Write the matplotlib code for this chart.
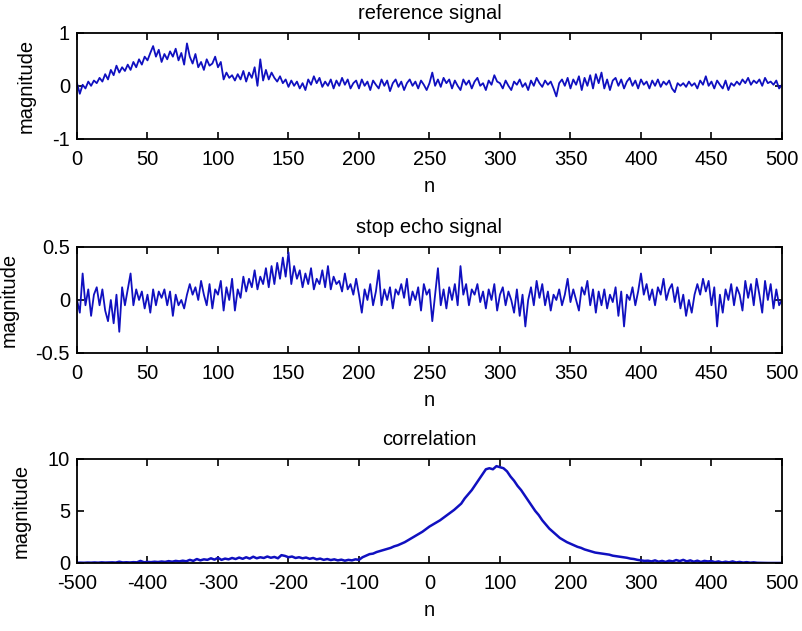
import numpy as np
import matplotlib
matplotlib.use('Agg')
import matplotlib.pyplot as plt

plt.rcParams['font.family'] = ['Liberation Sans', 'DejaVu Sans']
plt.rcParams['axes.unicode_minus'] = False

# ---- data ----
# reference signal, n = 0, 2, ..., 500
n_sig = np.arange(0, 501, 2)
ref_signal = [
    0.05, -0.15, 0.02, -0.05, 0.08, 0.0, 0.1, 0.05, 0.15, 0.08,
    0.22, 0.12, 0.3, 0.2, 0.38, 0.25, 0.35, 0.28, 0.4, 0.3,
    0.45, 0.35, 0.5, 0.4, 0.55, 0.48, 0.62, 0.75, 0.55, 0.68,
    0.45, 0.6, 0.5, 0.65, 0.55, 0.7, 0.48, 0.62, 0.4, 0.8,
    0.55, 0.42, 0.6, 0.35, 0.45, 0.3, 0.5, 0.38, 0.42, 0.55,
    0.35, 0.45, 0.12, 0.25, 0.15, 0.2, 0.1, 0.22, 0.12, 0.28,
    0.08, 0.25, 0.15, 0.35, 0.0, 0.5, 0.1, 0.3, 0.12, 0.25,
    0.15, 0.08, 0.18, 0.05, 0.12, -0.02, 0.1, 0.0, 0.08, -0.05,
    0.05, -0.08, 0.12, 0.02, 0.18, 0.05, 0.15, -0.02, 0.08, 0.0,
    0.12, -0.05, 0.1, 0.0, 0.15, 0.02, 0.12, -0.05, 0.05, 0.1,
    -0.05, 0.12, 0.0, 0.08, -0.08, 0.1, 0.02, -0.05, 0.12, 0.0,
    0.1, -0.1, 0.05, 0.12, -0.02, 0.08, -0.08, 0.05, 0.12, 0.0,
    0.08, -0.05, 0.1, 0.02, -0.08, 0.05, 0.25, 0.0, 0.12, -0.02,
    0.15, 0.05, 0.12, -0.05, 0.1, 0.0, -0.08, 0.12, 0.02, 0.1,
    -0.05, 0.08, 0.15, 0.0, 0.05, -0.08, 0.1, 0.02, 0.2, 0.08,
    0.05, -0.05, 0.1, 0.0, -0.08, 0.08, 0.02, 0.12, -0.02, 0.05,
    -0.08, 0.1, 0.0, 0.15, 0.05, -0.02, 0.1, 0.02, 0.08, -0.05,
    -0.2, 0.05, 0.12, 0.0, 0.15, -0.05, 0.12, 0.02, 0.18, -0.08,
    0.15, 0.0, 0.2, -0.05, 0.22, 0.05, 0.25, -0.05, 0.12, -0.08,
    0.1, 0.15, 0.0, 0.12, -0.05, 0.08, 0.15, 0.0, 0.1, -0.05,
    0.12, 0.02, 0.08, -0.05, 0.1, 0.0, 0.12, -0.02, 0.08, 0.02,
    0.1, -0.05, -0.12, 0.05, 0.0, 0.05, -0.02, 0.08, 0.0, 0.05,
    -0.05, 0.1, 0.02, 0.18, 0.0, 0.08, -0.05, 0.1, 0.02, -0.05,
    0.1, -0.08, 0.05, 0.0, 0.08, 0.02, 0.12, 0.05, 0.15, 0.02,
    0.1, 0.05, 0.12, 0.0, 0.15, 0.05, 0.08, 0.02, 0.1, -0.05,
    0.02,
]

# stop echo signal, n = 0, 2, ..., 500
echo_signal = [
    0.0, -0.12, 0.25, -0.05, 0.1, -0.15, 0.05, 0.12, -0.05, 0.1,
    -0.1, -0.2, 0.0, -0.22, 0.05, -0.3, 0.12, -0.05, 0.1, 0.25,
    -0.05, 0.1, 0.0, 0.08, -0.08, 0.05, -0.12, 0.1, -0.05, 0.08,
    0.02, 0.1, -0.05, 0.08, -0.15, 0.05, -0.05, 0.0, -0.08, 0.05,
    0.15, 0.05, 0.12, 0.0, 0.18, 0.05, -0.05, 0.15, -0.08, 0.1,
    0.05, 0.18, -0.1, 0.12, 0.0, 0.2, -0.1, 0.1, 0.02, 0.22,
    0.08, 0.2, 0.12, 0.28, 0.1, 0.22, 0.15, 0.3, 0.12, 0.32,
    0.15, 0.35, 0.2, 0.4, 0.22, 0.45, 0.15, 0.32, 0.2, 0.28,
    0.12, 0.25, 0.15, 0.3, 0.1, 0.2, 0.15, 0.28, 0.12, 0.32,
    0.1, 0.22, 0.15, 0.18, 0.08, 0.25, 0.1, 0.15, 0.05, 0.2,
    0.05, -0.12, 0.1, 0.0, 0.15, -0.05, 0.08, 0.28, -0.05, 0.1,
    0.0, 0.12, -0.08, 0.1, 0.05, 0.15, 0.02, 0.2, -0.05, 0.08,
    0.0, 0.12, -0.1, 0.15, 0.05, 0.1, -0.2, 0.05, 0.3, -0.05,
    0.1, -0.08, 0.12, 0.0, 0.15, -0.05, 0.32, 0.05, 0.15, -0.05,
    0.1, 0.05, 0.15, -0.02, 0.08, -0.08, 0.1, 0.0, 0.15, -0.1,
    0.05, 0.12, -0.05, 0.08, 0.0, -0.12, 0.1, -0.15, 0.05, -0.25,
    0.0, 0.12, -0.05, 0.18, 0.02, 0.15, -0.05, 0.08, -0.1, 0.05,
    0.0, 0.1, -0.05, 0.05, 0.2, -0.02, 0.1, 0.0, -0.1, 0.12,
    0.05, 0.18, -0.05, 0.1, -0.12, 0.08, -0.05, 0.1, -0.08, 0.05,
    -0.02, 0.12, -0.15, 0.08, -0.25, 0.05, 0.0, 0.12, -0.05, 0.08,
    0.25, 0.05, 0.15, 0.0, 0.1, -0.05, 0.12, 0.05, 0.2, 0.0,
    0.1, 0.15, -0.02, 0.12, -0.08, 0.05, -0.15, 0.0, -0.12, 0.05,
    0.15, 0.05, 0.2, 0.08, 0.18, -0.05, 0.12, -0.25, 0.05, -0.12,
    0.1, 0.0, 0.15, -0.05, 0.12, 0.05, -0.1, 0.18, 0.02, 0.15,
    -0.05, 0.2, 0.05, -0.12, 0.18, 0.0, 0.15, -0.08, 0.1, -0.05,
    0.0,
]

# correlation, lag = -500, -495, ..., 500
lag = np.arange(-500, 501, 5)
corr = [
    0.02, 0.03, 0.02, 0.04, 0.03, 0.05, 0.03, 0.06, 0.04, 0.05,
    0.06, 0.04, 0.12, 0.05, 0.07, 0.05, 0.08, 0.06, 0.2, 0.07,
    0.1, 0.08, 0.12, 0.09, 0.14, 0.1, 0.18, 0.12, 0.2, 0.15,
    0.22, 0.16, 0.3, 0.2, 0.38, 0.25, 0.35, 0.3, 0.45, 0.32,
    0.5, 0.3, 0.42, 0.35, 0.48, 0.38, 0.52, 0.4, 0.55, 0.42,
    0.6, 0.45, 0.55, 0.48, 0.62, 0.5, 0.58, 0.45, 0.75, 0.68,
    0.55, 0.62, 0.48, 0.55, 0.45, 0.52, 0.4, 0.48, 0.35, 0.42,
    0.3, 0.38, 0.28, 0.35, 0.25, 0.32, 0.22, 0.3, 0.25, 0.35,
    0.3, 0.55, 0.7, 0.85, 0.9, 1.05, 1.15, 1.25, 1.35, 1.45,
    1.6, 1.7, 1.85, 2.0, 2.2, 2.4, 2.6, 2.8, 3.0, 3.25,
    3.5, 3.7, 3.9, 4.1, 4.35, 4.6, 4.85, 5.1, 5.4, 5.7,
    6.2, 6.6, 7.0, 7.5, 8.0, 8.5, 9.0, 9.1, 9.0, 9.3,
    9.2, 9.1, 8.8, 8.3, 7.9, 7.4, 7.0, 6.5, 6.0, 5.5,
    5.0, 4.6, 4.1, 3.7, 3.3, 3.0, 2.7, 2.4, 2.2, 2.0,
    1.85, 1.7, 1.55, 1.45, 1.3, 1.2, 1.1, 1.0, 0.95, 0.9,
    0.85, 0.8, 0.7, 0.65, 0.6, 0.55, 0.5, 0.42, 0.38, 0.3,
    0.25, 0.2, 0.22, 0.15, 0.25, 0.12, 0.2, 0.1, 0.22, 0.15,
    0.28, 0.18, 0.3, 0.15, 0.25, 0.12, 0.22, 0.1, 0.2, 0.15,
    0.18, 0.08, 0.15, 0.05, 0.12, 0.06, 0.15, 0.05, 0.1, 0.04,
    0.08, 0.03, 0.06, 0.02, 0.01, 0.0, 0.0, 0.0, 0.0, 0.0,
    0.0,
]

line_color = '#1010c0'
fs = 14.5

fig = plt.figure(figsize=(8.02, 6.31), dpi=100)
ax1 = fig.add_axes([0.096, 0.780, 0.879, 0.168])
ax2 = fig.add_axes([0.096, 0.4406, 0.879, 0.168])
ax3 = fig.add_axes([0.096, 0.1078, 0.879, 0.165])

panels = [
    (ax1, n_sig, ref_signal, 'reference signal', (0, 500), (-1, 1),
     np.arange(0, 501, 50), [-1, 0, 1], 1.3),
    (ax2, n_sig, echo_signal, 'stop echo signal', (0, 500), (-0.5, 0.5),
     np.arange(0, 501, 50), [-0.5, 0, 0.5], 1.3),
    (ax3, lag, corr, 'correlation', (-500, 500), (0, 10),
     np.arange(-500, 501, 100), [0, 5, 10], 1.8),
]

for ax, x, y, title, xl, yl, xt, yt, lw in panels:
    ax.plot(x, y, color=line_color, linewidth=lw)
    ax.set_xlim(*xl)
    ax.set_ylim(*yl)
    ax.set_xticks(xt)
    ax.set_yticks(yt)
    ax.set_yticklabels([f'{v:g}' for v in yt])
    ax.tick_params(direction='in', top=True, right=True, length=5,
                   width=1.2, labelsize=fs)
    ax.tick_params(axis='x', pad=8)
    ax.tick_params(axis='y', pad=5)
    for s in ax.spines.values():
        s.set_linewidth(1.3)
    ax.set_title(title, fontsize=fs, pad=10)
    ax.set_xlabel('n', fontsize=fs, labelpad=6)
    ax.set_ylabel('magnitude', fontsize=fs, labelpad=12)

fig.savefig('out.png', dpi=100)
